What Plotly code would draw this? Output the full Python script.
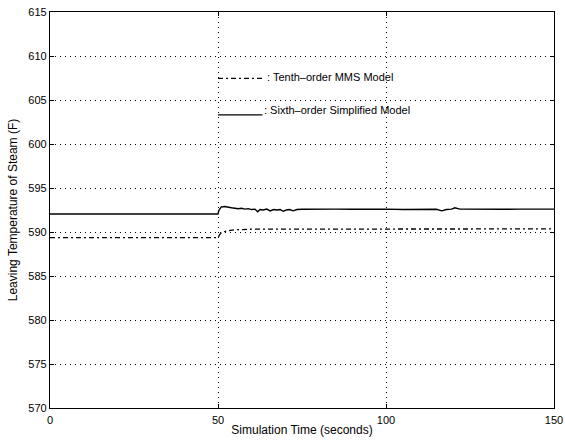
import plotly.graph_objects as go

# Simulation time (s) and leaving steam temperature (F) for each model
sixth_t = [0, 50, 50.3, 51, 52, 53, 54, 55, 56, 57, 58, 59, 60, 61, 61.8, 62.5,
           63.5, 64.5, 65.5, 66.5, 67.5, 68.5, 69.4, 70.3, 71.3, 72.4, 73.5, 75,
           80, 85, 90, 95, 100, 105, 110, 113, 115, 116.6, 118, 119.5, 120.5,
           122, 125, 130, 135, 140, 145, 150]
sixth_temp = [592.05, 592.05, 592.5, 592.85, 592.9, 592.8, 592.75, 592.7, 592.65,
              592.7, 592.6, 592.65, 592.55, 592.6, 592.3, 592.55, 592.5, 592.6,
              592.4, 592.55, 592.5, 592.55, 592.35, 592.5, 592.55, 592.4, 592.55,
              592.58, 592.55, 592.6, 592.58, 592.6, 592.6, 592.55, 592.6, 592.55,
              592.58, 592.4, 592.55, 592.6, 592.75, 592.6, 592.58, 592.6, 592.58,
              592.6, 592.6, 592.6]

tenth_t = [0, 50, 50.5, 51, 52, 53, 55, 57, 60, 70, 80, 90, 100, 110, 120, 130,
           140, 150]
tenth_temp = [589.35, 589.35, 589.7, 589.9, 590.05, 590.15, 590.25, 590.3, 590.32,
              590.33, 590.34, 590.34, 590.35, 590.35, 590.35, 590.35, 590.35,
              590.35]

x_ticks = [0, 50, 100, 150]
y_ticks = [570, 575, 580, 585, 590, 595, 600, 605, 610, 615]

legend_tenth = ": Tenth\u2013order MMS Model"
legend_sixth = ": Sixth\u2013order Simplified Model"

FONT = "Liberation Sans, Arial, Helvetica, sans-serif"
DASHDOT = "5px,3px,2px,3px"

fig = go.Figure()
fig.add_trace(go.Scatter(x=tenth_t, y=tenth_temp, mode="lines",
                         line=dict(color="black", width=1.3, dash=DASHDOT),
                         showlegend=False))
fig.add_trace(go.Scatter(x=sixth_t, y=sixth_temp, mode="lines",
                         line=dict(color="black", width=1.4),
                         showlegend=False))

# Text legend placed inside the axes: line sample followed by its label
fig.add_shape(type="line", x0=50, x1=64.0, y0=607.45, y1=607.45, xref="x", yref="y",
              line=dict(color="black", width=1.3, dash=DASHDOT))
fig.add_annotation(x=64.0, y=607.6, xref="x", yref="y", text=legend_tenth,
                   showarrow=False, xanchor="left", yanchor="middle",
                   font=dict(family=FONT, size=11, color="black"))
fig.add_shape(type="line", x0=50, x1=63.2, y0=603.3, y1=603.3, xref="x", yref="y",
              line=dict(color="black", width=1.3))
fig.add_annotation(x=63.2, y=603.9, xref="x", yref="y", text=legend_sixth,
                   showarrow=False, xanchor="left", yanchor="middle",
                   font=dict(family=FONT, size=11, color="black"))

axis_common = dict(
    showline=True, linecolor="black", linewidth=1.3, mirror="ticks",
    ticks="inside", ticklen=4, tickcolor="black",
    showgrid=True, gridcolor="black", gridwidth=1, griddash="1px,4px",
    zeroline=False, automargin=False,
    tickfont=dict(family=FONT, size=11, color="black"),
)

fig.update_xaxes(range=[0, 150], tickvals=x_ticks, ticktext=[str(v) for v in x_ticks],
                 ticklabelstandoff=2,
                 title=dict(text="Simulation Time (seconds)", standoff=0,
                            font=dict(family=FONT, size=12, color="black")),
                 **axis_common)
fig.update_yaxes(range=[570, 615], tickvals=y_ticks, ticktext=[str(v) for v in y_ticks],
                 title=dict(text="Leaving Temperature of Steam (F)", standoff=8,
                            font=dict(family=FONT, size=12, color="black")),
                 **axis_common)

fig.update_layout(
    width=565, height=442,
    margin=dict(l=50, r=11, t=12, b=34),
    paper_bgcolor="white", plot_bgcolor="white",
    showlegend=False,
)

fig.write_html("out.html")
